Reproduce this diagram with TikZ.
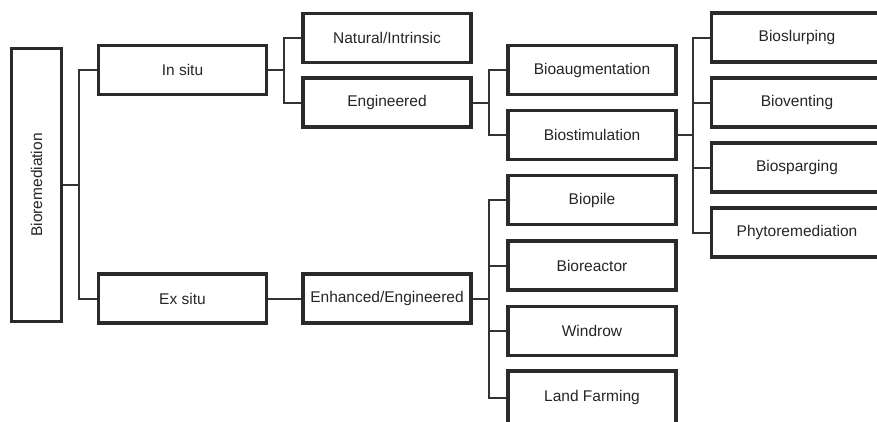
\documentclass[tikz,border=0pt]{standalone}
\usepackage{fontspec}
\setmainfont{Liberation Sans}
\usetikzlibrary{shadows}
\definecolor{boxline}{HTML}{2A2A2A}
\definecolor{conline}{HTML}{333333}
\tikzset{
  box/.style={draw=boxline, line width=3.2pt, fill=white, rectangle,
    minimum width=168pt, minimum height=49pt, inner sep=0pt,
    font=\fontsize{15.5}{18}\selectfont, text=black!85,
    drop shadow={shadow xshift=0.8pt, shadow yshift=-1.3pt, opacity=0.22, fill=black}},
  wbox/.style={box, minimum width=171pt},
  con/.style={draw=conline, line width=2pt}
}
\begin{document}
\begin{tikzpicture}[x=1pt,y=-1pt]
\useasboundingbox (0,0) rectangle (877,421);
\clip (0,0) rectangle (877,421);
\fill[white] (0,0) rectangle (877,421);
% root
\node[box, minimum width=50pt, minimum height=273pt] (bio) at (36.5,185) {};
\node[rotate=90, font=\fontsize{15.5}{18}\selectfont, text=black!85] (biolabel) at (bio) {Bioremediation};
% level 1
\node[box] (insitu) at (182.5,70) {In situ};
\node[box] (exsitu) at (182.5,298.5) {Ex situ};
% level 2
\node[box] (natural) at (387,38) {Natural/Intrinsic};
\node[box] (engineered) at (387,102.5) {Engineered};
\node[box] (enhanced) at (387,298.5) {Enhanced/Engineered};
% level 3
\node[box] (bioaug) at (592,70) {Bioaugmentation};
\node[box] (biostim) at (592,135) {Biostimulation};
\node[box] (biopile) at (592,200) {Biopile};
\node[box] (bioreactor) at (592,265.5) {Bioreactor};
\node[box] (windrow) at (592,331) {Windrow};
\node[box, minimum height=53pt] (landfarm) at (592,397.5) {Land Farming};
% level 4
\node[wbox] (bioslurp) at (797,37.5) {Bioslurping};
\node[wbox] (biovent) at (797,102.5) {Bioventing};
\node[wbox] (biosparg) at (797,167.5) {Biosparging};
\node[wbox] (phyto) at (797,232.5) {Phytoremediation};
% connectors
\draw[con] (bio.east) -- ++(16,0) |- (insitu.west);
\draw[con] (bio.east) -- ++(16,0) |- (exsitu.west);
\draw[con] (insitu.east) -- ++(16,0) |- (natural.west);
\draw[con] (insitu.east) -- ++(16,0) |- (engineered.west);
\draw[con] (exsitu.east) -- (enhanced.west);
\draw[con] (engineered.east) -- ++(16,0) |- (bioaug.west);
\draw[con] (engineered.east) -- ++(16,0) |- (biostim.west);
\foreach \c in {biopile,bioreactor,windrow,landfarm}
  \draw[con] (enhanced.east) -- ++(16,0) |- (\c.west);
\foreach \c in {bioslurp,biovent,biosparg,phyto}
  \draw[con] (biostim.east) -- ++(15,0) |- (\c.west);
\end{tikzpicture}
\end{document}
